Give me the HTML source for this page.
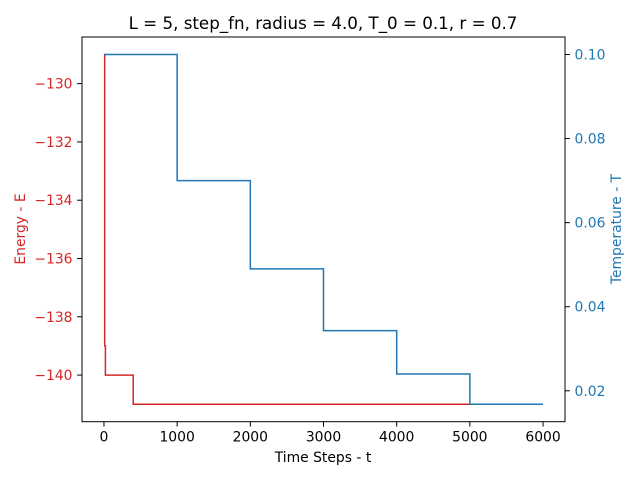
<!DOCTYPE html>
<html><head><meta charset="utf-8"><style>
body{margin:0;background:#fff;font-family:"Liberation Sans","DejaVu Sans",sans-serif}
svg text{font-family:"DejaVu Sans","Liberation Sans",sans-serif}
</style></head><body>
<svg id="chart" width="640" height="480" viewBox="0 0 640 480" xmlns="http://www.w3.org/2000/svg">
<rect width="640" height="480" fill="#fff"/>
<text x="323" y="29" font-size="16.7" text-anchor="middle">L = 5, step_fn, radius = 4.0, T_0 = 0.1, r = 0.7</text>
<g id="marks"></g>
<g id="axes"></g>
<text x="323" y="462" font-size="13.9" text-anchor="middle">Time Steps - t</text>
<text transform="translate(25,229) rotate(-90)" font-size="13.9" text-anchor="middle" fill="#d62728">Energy - E</text>
<text transform="translate(621,229) rotate(-90)" font-size="13.9" text-anchor="middle" fill="#1f77b4">Temperature - T</text>
</svg>
<script>
const energySteps=[0,10,20,400,5000];
const energyValues=[-129,-139,-140,-141,-141];
const tempSteps=[0,1000,2000,3000,4000,5000,6000];
const tempValues=[0.1,0.07,0.049,0.0343,0.02401,0.016807,0.016807];
const xTicks=[0,1000,2000,3000,4000,5000,6000];
const eTicks=[-130,-132,-134,-136,-138,-140];
const tTicks=[0.02,0.04,0.06,0.08,0.10];
const L=82,R=565,T=37,B=421.7;
const xs=v=>L+(v+300)/6600*(R-L);
const ye=v=>T+(-128.4-v)/13.2*(B-T);
const tMin=0.01265,tMax=0.10416;
const yt=v=>T+(tMax-v)/(tMax-tMin)*(B-T);
const NS="http://www.w3.org/2000/svg";
const marks=document.getElementById('marks'),axes=document.getElementById('axes');
function mk(tag,attrs,parent){const e=document.createElementNS(NS,tag);for(const k in attrs)e.setAttribute(k,attrs[k]);parent.appendChild(e);return e;}
function stepPath(xv,yv,fy){let d='M'+xs(xv[0])+','+fy(yv[0]);for(let i=1;i<xv.length;i++){d+=' H'+xs(xv[i])+' V'+fy(yv[i]);}return d;}
const ep=mk('path',{d:stepPath(energySteps,energyValues,ye),fill:'none',stroke:'#d62728','stroke-width':1.5},marks);


const tp=mk('path',{d:stepPath(tempSteps,tempValues,yt),fill:'none',stroke:'#1f77b4','stroke-width':1.5},marks);


const fr=mk('rect',{x:L,y:T,width:R-L,height:B-T,fill:'none',stroke:'#000','stroke-width':1},axes);


xTicks.forEach(v=>{const x=xs(v);mk('line',{x1:x,x2:x,y1:B,y2:B+4.9,stroke:'#000'},axes);
const t=mk('text',{x:x,y:B+20,'font-size':13.9,'text-anchor':'middle'},axes);t.textContent=v;

});
eTicks.forEach(v=>{const y=ye(v);mk('line',{x1:L-4.9,x2:L,y1:y,y2:y,stroke:'#000'},axes);
const t=mk('text',{x:L-9.5,y:y+5,'font-size':13.9,'text-anchor':'end',fill:'#d62728'},axes);t.textContent='\u2212'+Math.abs(v);

});
tTicks.forEach(v=>{const y=yt(v);mk('line',{x1:R,x2:R+4.9,y1:y,y2:y,stroke:'#000'},axes);
const t=mk('text',{x:R+9.5,y:y+5,'font-size':13.9,'text-anchor':'start',fill:'#1f77b4'},axes);t.textContent=v.toFixed(2);

});
</script>
</body></html>
